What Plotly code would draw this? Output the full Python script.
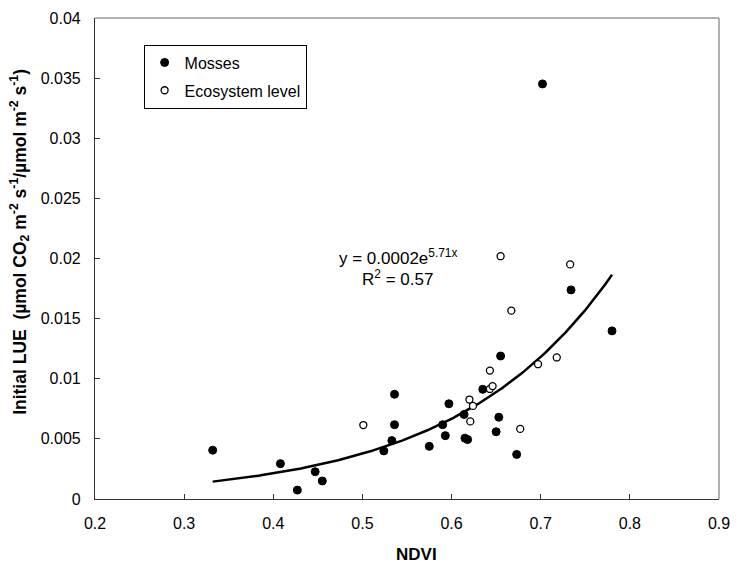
import numpy as np
import plotly.graph_objects as go

# Mosses (filled)
moss_ndvi = [0.332, 0.408, 0.427, 0.447, 0.455, 0.524, 0.533, 0.536, 0.536, 0.575,
             0.590, 0.593, 0.597, 0.614, 0.615, 0.618, 0.635, 0.650, 0.653, 0.655,
             0.673, 0.702, 0.734, 0.780]
moss_lue = [0.00406, 0.00294, 0.00074, 0.00227, 0.0015, 0.0040, 0.00486, 0.00871, 0.00618, 0.00438,
            0.00618, 0.00527, 0.00792, 0.00703, 0.00506, 0.00494, 0.00912, 0.00559, 0.0068, 0.01189,
            0.00371, 0.03452, 0.01739, 0.01398]

# Ecosystem level (open)
eco_ndvi = [0.501, 0.620, 0.621, 0.624, 0.643, 0.643, 0.646, 0.655, 0.667, 0.677,
            0.697, 0.718, 0.733]
eco_lue = [0.00615, 0.00827, 0.00645, 0.00774, 0.01068, 0.00915, 0.00939, 0.02019, 0.01566, 0.00583,
           0.01121, 0.01177, 0.01951]

# exponential trend line y = a*exp(b*x)
fit_a = 0.000217
fit_b = 5.71
fit_xmin, fit_xmax = 0.332, 0.780

x_ticks = [0.2, 0.3, 0.4, 0.5, 0.6, 0.7, 0.8, 0.9]
y_ticks = [0, 0.005, 0.01, 0.015, 0.02, 0.025, 0.03, 0.035, 0.04]
x_ticklabels = ["0.2", "0.3", "0.4", "0.5", "0.6", "0.7", "0.8", "0.9"]
y_ticklabels = ["0", "0.005", "0.01", "0.015", "0.02", "0.025", "0.03", "0.035", "0.04"]

FONT = "Liberation Sans, Arial, sans-serif"
W, H = 740, 567
L, R, T, B = 95, 16, 10, 68
PW, PH = W - L - R, H - T - B


def px(x):
    return (x - L) / PW


def py(y):
    return (H - B - y) / PH


fx = np.linspace(fit_xmin, fit_xmax, 200)
fy = fit_a * np.exp(fit_b * fx)

fig = go.Figure()
fig.add_trace(go.Scatter(x=fx, y=fy, mode="lines", line=dict(color="black", width=2.5),
                         showlegend=False, hoverinfo="skip"))
fig.add_trace(go.Scatter(x=moss_ndvi, y=moss_lue, mode="markers", name="Mosses",
                         legendgroup="a",
                         marker=dict(symbol="circle", size=8, color="black",
                                     line=dict(color="black", width=1))))
fig.add_trace(go.Scatter(x=eco_ndvi, y=eco_lue, mode="markers", name="Ecosystem level",
                         legendgroup="b",
                         marker=dict(symbol="circle", size=7, color="white",
                                     line=dict(color="black", width=1.3))))

fig.add_annotation(xref="paper", yref="paper", x=px(400), y=py(253),
                   text="y = 0.0002e<sup>5.71x</sup>", showarrow=False,
                   font=dict(family=FONT, size=17, color="black"), xanchor="center", yanchor="middle")
fig.add_annotation(xref="paper", yref="paper", x=px(400), y=py(274),
                   text="R<sup>2</sup> = 0.57", showarrow=False,
                   font=dict(family=FONT, size=17, color="black"), xanchor="center", yanchor="middle")

# axis titles
fig.add_annotation(xref="paper", yref="paper", x=px(419), y=py(555),
                   text="<b>NDVI</b>", showarrow=False,
                   font=dict(family=FONT, size=17, color="black"), xanchor="center", yanchor="middle")
fig.add_annotation(xref="paper", yref="paper", x=px(19), y=py(238), textangle=-90,
                   text="<b>Initial LUE  (µmol CO<sub>2</sub> m<sup>-2</sup> s<sup>-1</sup>/µmol m<sup>-2</sup> s<sup>-1</sup>)</b>",
                   showarrow=False,
                   font=dict(family=FONT, size=17.5, color="black"), xanchor="center", yanchor="middle")

# gray frame top/right
fig.add_shape(type="line", xref="paper", yref="paper", x0=0, x1=1, y0=1, y1=1,
              line=dict(color="#999999", width=1.5))
fig.add_shape(type="line", xref="paper", yref="paper", x0=1, x1=1, y0=0, y1=1,
              line=dict(color="#999999", width=1.5))

fig.update_layout(
    width=W, height=H,
    margin=dict(l=L, r=R, t=T, b=B),
    paper_bgcolor="white", plot_bgcolor="white",
    font=dict(family=FONT, size=16, color="black"),
    legend=dict(x=px(144), y=py(37), xanchor="left", yanchor="top",
                bordercolor="black", borderwidth=1, bgcolor="white",
                font=dict(family=FONT, size=16, color="black"),
                itemwidth=30, tracegroupgap=4),
    xaxis=dict(range=[0.2, 0.9], tickvals=x_ticks, ticktext=x_ticklabels,
               showgrid=False, zeroline=False, showline=True, linecolor="#333333", linewidth=1.2,
               ticks="inside", ticklen=5, tickcolor="#333333",
               tickfont=dict(family=FONT, size=16), ticklabelstandoff=10),
    yaxis=dict(range=[0, 0.04], tickvals=y_ticks, ticktext=y_ticklabels,
               showgrid=False, zeroline=False, showline=True, linecolor="#333333", linewidth=1.2,
               ticks="inside", ticklen=5, tickcolor="#333333",
               tickfont=dict(family=FONT, size=16), ticklabelstandoff=10),
)

fig.write_html("out.html")
